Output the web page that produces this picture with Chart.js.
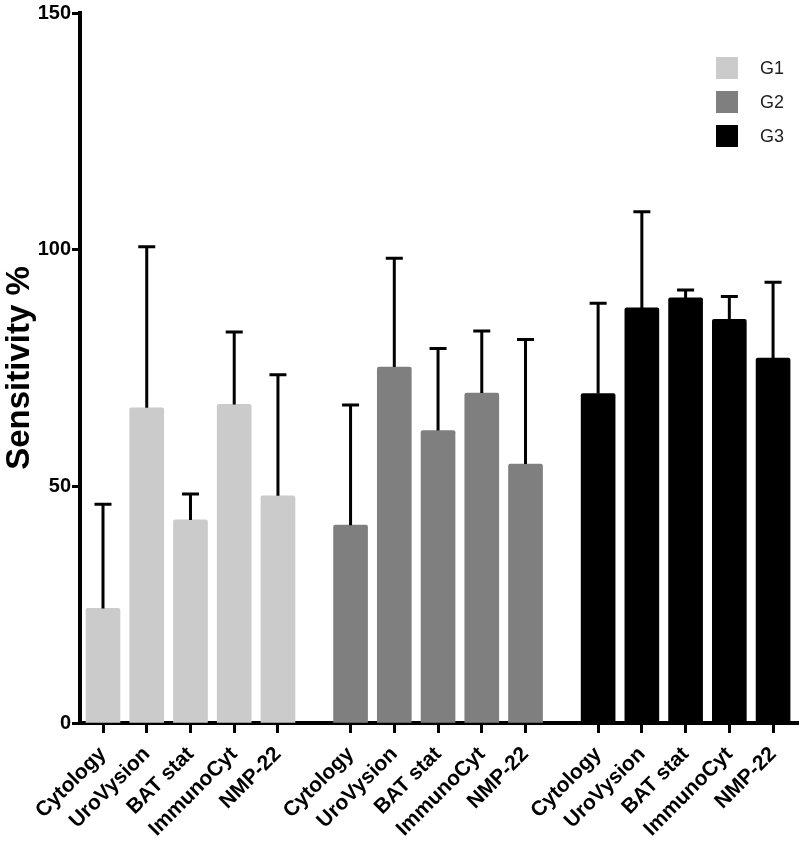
<!DOCTYPE html>
<html>
<head>
<meta charset="utf-8">
<script src="https://cdn.jsdelivr.net/npm/chart.js@4.4.0/dist/chart.umd.min.js"></script>
<style>
  html, body { margin: 0; padding: 0; background: #fff; }
  #wrap { width: 800px; height: 841px; position: relative; }
</style>
</head>
<body>
<div id="wrap"><canvas id="chart"></canvas></div>
<script>
// datos
const categories = ['Cytology', 'UroVysion', 'BAT stat', 'ImmunoCyt', 'NMP-22'];
const groups     = ['G1', 'G2', 'G3'];
const colors     = ['#cbcbcb', '#7f7f7f', '#000000'];

const g1Values = [24.2, 66.6, 42.9, 67.3, 48.0];
const g1Upper  = [46.2, 100.6, 48.4, 82.6, 73.6];
const g2Values = [41.8, 75.2, 61.8, 69.7, 54.7];
const g2Upper  = [67.2, 98.2, 79.1, 82.8, 81.0];
const g3Values = [69.6, 87.7, 89.8, 85.3, 77.1];
const g3Upper  = [88.7, 108.0, 91.5, 90.1, 93.1];

const yTicks = [0, 50, 100, 150];

// espacio extra entre grupos (en unidades de barra)
const GROUP_GAP = 0.66;
const xPos = (g, i) => g * (categories.length + GROUP_GAP) + i;

const allValues = [g1Values, g2Values, g3Values];
const allUpper  = [g1Upper, g2Upper, g3Upper];
const tickPositions = [];
groups.forEach((_, g) => categories.forEach((_, i) => tickPositions.push(xPos(g, i))));

const FONT = "'Liberation Sans', Arial, sans-serif";

/* ---- barras de error (solo hacia arriba) ---- */
const errorBars = {
  id: 'errorBars',
  afterDatasetsDraw(chart) {
    const ctx = chart.ctx;
    const yScale = chart.scales.y;
    ctx.save();
    ctx.strokeStyle = '#000';
    ctx.lineWidth = 3;
    chart.data.datasets.forEach((ds, d) => {
      const meta = chart.getDatasetMeta(d);
      meta.data.forEach((bar, i) => {
        const yTop = yScale.getPixelForValue(ds.upper[i]);
        ctx.beginPath();
        ctx.moveTo(bar.x, bar.y);
        ctx.lineTo(bar.x, yTop);
        ctx.moveTo(bar.x - 8.5, yTop);
        ctx.lineTo(bar.x + 8.5, yTop);
        ctx.stroke();
      });
    });
    ctx.restore();
  }
};

/* ---- leyenda dentro del area ---- */
const boxLegend = {
  id: 'boxLegend',
  afterDraw(chart) {
    const ctx = chart.ctx;
    ctx.save();
    ctx.font = `18px ${FONT}`;
    ctx.textBaseline = 'middle';
    chart.data.datasets.forEach((ds, d) => {
      const top = 57 + d * 34;
      ctx.fillStyle = ds.backgroundColor;
      ctx.fillRect(716, top, 22, 22);
      ctx.fillStyle = '#222';
      ctx.fillText(ds.label, 760, top + 12);
    });
    ctx.restore();
  }
};

const datasets = groups.map((name, g) => ({
  label: name,
  data: allValues[g].map((v, i) => ({ x: xPos(g, i), y: v })),
  upper: allUpper[g],
  backgroundColor: colors[g],
  borderWidth: 0,
  borderRadius: 2,
  borderSkipped: 'bottom',
  barThickness: 34,
  grouped: false
}));

const ctx = document.getElementById('chart').getContext('2d');
new Chart(ctx, {
  type: 'bar',
  data: { datasets },
  plugins: [errorBars, boxLegend],
  options: {
    responsive: true,
    maintainAspectRatio: false,
    animation: false,
    layout: { padding: { top: 9, right: 2, left: 0, bottom: 0 } },
    plugins: { legend: { display: false }, tooltip: { enabled: false } },
    scales: {
      x: {
        type: 'linear',
        offset: false,
        z: 1,
        min: -0.526,
        max: 15.89,
        afterBuildTicks: axis => { axis.ticks = tickPositions.map(v => ({ value: v })); },
        afterFit: scale => { scale.height = 118; },
        grid: { display: true, offset: false, drawOnChartArea: false, drawTicks: true, tickLength: 10, tickWidth: 3, color: '#000' },
        border: { display: true, width: 4, color: '#000' },
        ticks: {
          autoSkip: false,
          minRotation: 45,
          maxRotation: 45,
          padding: 9,
          color: '#000',
          font: { family: FONT, size: 21, weight: 'bold' },
          callback: (value, index) => categories[index % categories.length]
        }
      },
      y: {
        min: 0,
        max: 150,
        z: 1,
        afterBuildTicks: axis => { axis.ticks = yTicks.map(v => ({ value: v })); },
        afterFit: scale => { scale.width = 80; },
        grid: { display: true, drawOnChartArea: false, drawTicks: true, tickLength: 8, tickWidth: 3, color: '#000' },
        border: { display: true, width: 4, color: '#000' },
        ticks: {
          padding: 1,
          color: '#000',
          font: { family: FONT, size: 20, weight: 'bold' }
        },
        title: {
          display: true,
          text: 'Sensitivity %',
          color: '#000',
          padding: { top: 0, bottom: 0 },
          font: { family: FONT, size: 33, weight: 'bold' }
        }
      }
    }
  }
});
</script>
</body>
</html>
